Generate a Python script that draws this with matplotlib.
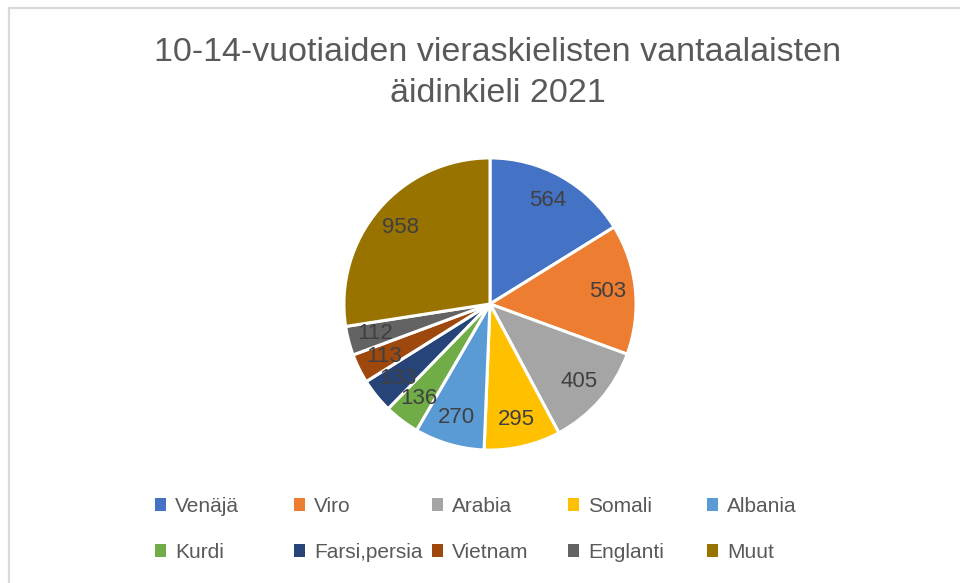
import numpy as np
import matplotlib.pyplot as plt
from matplotlib.patches import Rectangle, Patch

kielet = ['Venäjä', 'Viro', 'Arabia', 'Somali', 'Albania',
          'Kurdi', 'Farsi,persia', 'Vietnam', 'Englanti', 'Muut']
maarat = [564, 503, 405, 295, 270, 136, 133, 113, 112, 958]
varit = ['#4472C4', '#ED7D31', '#A5A5A5', '#FFC000', '#5B9BD5',
         '#70AD47', '#264478', '#9E480E', '#636363', '#997300']
otsikko = '10-14-vuotiaiden vieraskielisten vantaalaisten\näidinkieli 2021'

plt.rcParams['font.family'] = ['Liberation Sans', 'DejaVu Sans']

fig = plt.figure(figsize=(9.6, 5.83), dpi=100)
fig.patch.set_facecolor('white')

# kehys (vain vasen ja ylä näkyvät)
fig.add_artist(Rectangle((9 / 960, -0.2), 1.5, 1.2 - 8 / 583, transform=fig.transFigure,
                         fill=False, edgecolor='#d9d9d9', lw=1.6))

fig.text(498 / 960, 1 - 73 / 583, otsikko, ha='center', va='center',
         fontsize=24.5, color='#595959', linespacing=1.45)

cx, cy, r = 490 / 960, 1 - 304 / 583, 149
ax = fig.add_axes([cx - r / 960, cy - r / 583, 2 * r / 960, 2 * r / 583])
summa = sum(maarat)
wedges, teksti, autot = ax.pie(
    maarat, colors=varit, startangle=90, counterclock=False,
    autopct=lambda p: '%d' % round(p * summa / 100), pctdistance=0.81,
    wedgeprops=dict(edgecolor='white', linewidth=2.2),
    textprops=dict(color='#404040', fontsize=16))
ax.set_xlim(-1.02, 1.02)
ax.set_ylim(-1.02, 1.02)
ax.set_aspect('auto')
ax.axis('off')

# legenda sarakkeittain, Excelin tapaan tasavälein
sarake_x = [155, 294, 432, 568, 707]
for c in range(5):
    kahvat = [Patch(facecolor=varit[i], edgecolor='none') for i in (c, c + 5)]
    fig.legend(kahvat, [kielet[c], kielet[c + 5]], loc='upper left',
               bbox_to_anchor=(sarake_x[c] / 960, 1 - 497 / 583), frameon=False,
               fontsize=15, labelcolor='#595959', handlelength=0.55, handleheight=0.55,
               handletextpad=0.4, labelspacing=1.3, borderpad=0, borderaxespad=0)

fig.savefig('out.png', dpi=100, facecolor='white')
